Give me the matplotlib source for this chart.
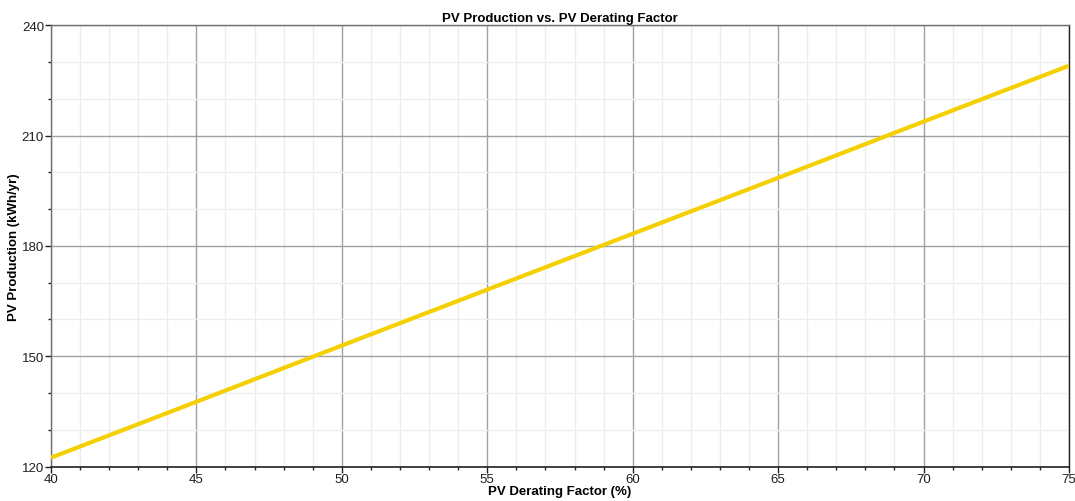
#!/usr/bin/env python3
"""
PV production vs. PV derating factor line chart.
"""

import matplotlib
matplotlib.use("Agg")
import matplotlib.pyplot as plt
from matplotlib.ticker import MultipleLocator

# Data
derating = [40, 45, 50, 55, 60, 65, 70, 75]
production = [122.4, 137.6, 152.9, 168.1, 183.3, 198.5, 213.8, 229.0]

x_ticks = [40, 45, 50, 55, 60, 65, 70, 75]
y_ticks = [120, 150, 180, 210, 240]

plt.rcParams['font.family'] = ['Liberation Sans', 'DejaVu Sans']

fig = plt.figure(figsize=(10.75, 5.02), dpi=100)
ax = fig.add_axes([0.0474, 0.0687, 0.947, 0.879])

ax.plot(derating, production, color='#f5d000', linewidth=3, solid_capstyle='butt', zorder=3)

ax.set_xlim(40, 75)
ax.set_ylim(120, 240)
ax.set_xticks(x_ticks)
ax.set_yticks(y_ticks)
ax.xaxis.set_minor_locator(MultipleLocator(1))
ax.yaxis.set_minor_locator(MultipleLocator(10))

# Grid: major darker, minor faint
ax.grid(which='major', color='#a0a0a0', linewidth=1)
ax.grid(which='minor', color='#ededed', linewidth=1)
ax.set_axisbelow(True)

for side in ['top', 'right', 'left']:
    ax.spines[side].set_color('#707070')
    ax.spines[side].set_linewidth(1)
ax.spines['right'].set_color('#202020')
ax.spines['bottom'].set_color('#202020')
ax.spines['bottom'].set_linewidth(1.2)

ax.tick_params(which='major', direction='out', length=4, width=1, labelsize=9.5, pad=1, colors='#202020')
ax.tick_params(which='minor', direction='out', length=2, width=1, colors='#202020')

ax.set_title('PV Production vs. PV Derating Factor', fontsize=9.5, fontweight='bold', pad=3)
ax.set_xlabel('PV Derating Factor (%)', fontsize=9.5, fontweight='bold', labelpad=0)
ax.set_ylabel('PV Production (kWh/yr)', fontsize=9.5, fontweight='bold', labelpad=1)

fig.savefig('out.png', dpi=100)
